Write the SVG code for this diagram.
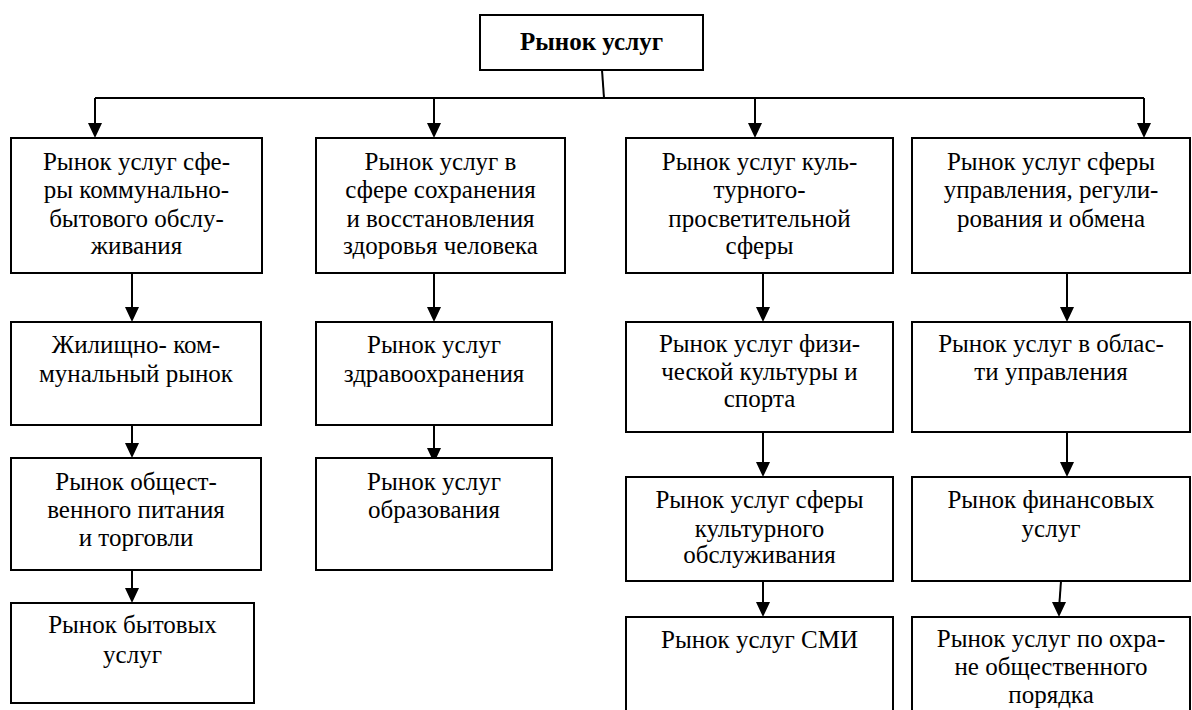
<svg xmlns="http://www.w3.org/2000/svg" width="1192" height="710" viewBox="0 0 1192 710">
<defs>
<style>
.box{fill:#fff;stroke:#000;stroke-width:2}
.t{font-size:25px;fill:#000;text-anchor:middle}
.b{font-weight:bold}
.ln{fill:none;stroke:#000;stroke-width:2}
</style>
<path id="ah" d="M-7,-15 L7,-15 L0,0 Z" fill="#000"/>
</defs>
<rect width="1192" height="710" fill="#fff"/>
<g id="connectors">
<path class="ln" d="M602,70 L604,98"/>
<path class="ln" d="M95,98 L1144,98"/>
<path class="ln" d="M95,98 L95,130"/><use href="#ah" x="95" y="138"/>
<path class="ln" d="M434,98 L434,130"/><use href="#ah" x="434" y="138"/>
<path class="ln" d="M755,98 L755,130"/><use href="#ah" x="755" y="138"/>
<path class="ln" d="M1144,98 L1144,130"/><use href="#ah" x="1144" y="138"/>
<path class="ln" d="M132,273 L132,314"/><use href="#ah" x="132" y="322"/>
<path class="ln" d="M132,425 L132,450"/><use href="#ah" x="132" y="458"/>
<path class="ln" d="M132,570 L132,595"/><use href="#ah" x="132" y="603"/>
<path class="ln" d="M434,273 L434,314"/><use href="#ah" x="434" y="322"/>
<path class="ln" d="M434,425 L434,455"/><use href="#ah" x="434" y="463"/>
<path class="ln" d="M763,273 L763,314"/><use href="#ah" x="763" y="322"/>
<path class="ln" d="M763,432 L763,469"/><use href="#ah" x="763" y="477"/>
<path class="ln" d="M763,581 L763,609"/><use href="#ah" x="763" y="617"/>
<path class="ln" d="M1067,273 L1067,314"/><use href="#ah" x="1067" y="322"/>
<path class="ln" d="M1067,432 L1067,469"/><use href="#ah" x="1067" y="477"/>
<path class="ln" d="M1061,581 L1059,609"/><use href="#ah" x="1059" y="617"/>
</g>
<g font-family="Liberation Serif, serif">
<g id="n0"><rect class="box" x="480" y="15" width="223" height="55"/><text class="t b" x="591.5" y="50">Рынок услуг</text></g>
<g id="n1"><rect class="box" x="11" y="138" width="251" height="135"/><text class="t" x="136.5" y="170">Рынок услуг сфе-</text><text class="t" x="136.5" y="198">ры коммунально-</text><text class="t" x="136.5" y="227">бытового обслу-</text><text class="t" x="136.5" y="254">живания</text></g>
<g id="n2"><rect class="box" x="316" y="138" width="249" height="135"/><text class="t" x="440.5" y="170">Рынок услуг в</text><text class="t" x="440.5" y="198">сфере сохранения</text><text class="t" x="440.5" y="227">и восстановления</text><text class="t" x="440.5" y="254">здоровья человека</text></g>
<g id="n3"><rect class="box" x="626" y="138" width="267" height="135"/><text class="t" x="759.5" y="170">Рынок услуг куль-</text><text class="t" x="759.5" y="198">турного-</text><text class="t" x="759.5" y="227">просветительной</text><text class="t" x="759.5" y="254">сферы</text></g>
<g id="n4"><rect class="box" x="912" y="138" width="278" height="135"/><text class="t" x="1051" y="170">Рынок услуг сферы</text><text class="t" x="1051" y="198">управления, регули-</text><text class="t" x="1051" y="227">рования и обмена</text></g>
<g id="n5"><rect class="box" x="11" y="322" width="250" height="103"/><text class="t" x="136" y="353">Жилищно- ком-</text><text class="t" x="136" y="382">мунальный рынок</text></g>
<g id="n6"><rect class="box" x="11" y="458" width="250" height="112"/><text class="t" x="136" y="490">Рынок общест-</text><text class="t" x="136" y="518">венного питания</text><text class="t" x="136" y="546">и торговли</text></g>
<g id="n7"><rect class="box" x="11" y="603" width="243" height="100"/><text class="t" x="132.5" y="633">Рынок бытовых</text><text class="t" x="132.5" y="663">услуг</text></g>
<g id="n8"><rect class="box" x="316" y="322" width="236" height="103"/><text class="t" x="434" y="353">Рынок услуг</text><text class="t" x="434" y="382">здравоохранения</text></g>
<g id="n9"><rect class="box" x="316" y="458" width="236" height="112"/><text class="t" x="434" y="490">Рынок услуг</text><text class="t" x="434" y="518">образования</text></g>
<g id="n10"><rect class="box" x="626" y="322" width="267" height="110"/><text class="t" x="759.5" y="352">Рынок услуг физи-</text><text class="t" x="759.5" y="380">ческой культуры и</text><text class="t" x="759.5" y="407">спорта</text></g>
<g id="n11"><rect class="box" x="626" y="477" width="267" height="104"/><text class="t" x="759.5" y="508">Рынок услуг сферы</text><text class="t" x="759.5" y="537">культурного</text><text class="t" x="759.5" y="563">обслуживания</text></g>
<g id="n12"><rect class="box" x="626" y="617" width="267" height="120"/><text class="t" x="759.5" y="648">Рынок услуг СМИ</text></g>
<g id="n13"><rect class="box" x="912" y="322" width="278" height="110"/><text class="t" x="1051" y="352">Рынок услуг в облас-</text><text class="t" x="1051" y="380">ти управления</text></g>
<g id="n14"><rect class="box" x="912" y="477" width="278" height="104"/><text class="t" x="1051" y="508">Рынок финансовых</text><text class="t" x="1051" y="537">услуг</text></g>
<g id="n15"><rect class="box" x="912" y="617" width="278" height="120"/><text class="t" x="1051" y="647">Рынок услуг по охра-</text><text class="t" x="1051" y="675">не общественного</text><text class="t" x="1051" y="703">порядка</text></g>
</g>
</svg>
